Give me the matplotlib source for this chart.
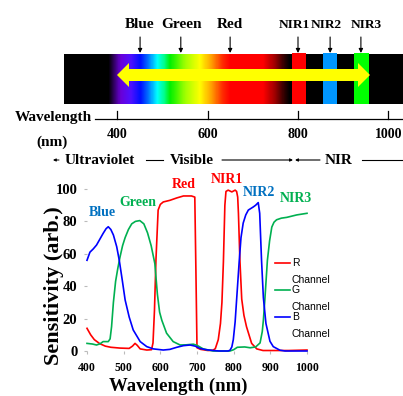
import matplotlib
matplotlib.use('Agg')
import matplotlib.pyplot as plt
import numpy as np
from matplotlib.patches import Polygon, Rectangle
from matplotlib.colors import LinearSegmentedColormap
from matplotlib.lines import Line2D

# ---------------- data ----------------
wl_r = [400, 410, 420, 435, 450, 465, 490, 515, 524, 531, 537, 545, 563, 576, 580, 584, 588, 594,
        600, 608, 626, 645, 663, 685, 694, 697, 700, 710, 730, 744, 750, 758, 764, 768, 772, 776,
        779, 785, 795, 804, 808, 811, 813, 817, 822, 828, 835, 849, 863, 880, 950, 1000]
s_r = [14, 10, 7, 4.5, 3, 2.3, 1.8, 1.6, 3, 4.7, 3.5, 1.3, 0.6, 0.8, 5, 25, 56, 87,
       90.5, 92, 93, 94.5, 95.7, 95.7, 95, 50, 2, 1, 0.3, 0.5, 1.5, 7, 17, 30, 55, 90,
       98.5, 99.3, 98.2, 99.3, 98.5, 95, 85, 56, 32, 22, 15, 4.7, 1.3, 0.3, 0.3, 0.6]

wl_g = [400, 415, 426, 436, 444, 458, 463, 467, 472, 478, 484, 490, 497, 504, 513, 522, 532, 544,
        555, 565, 575, 585, 592, 598, 604, 617, 635, 654, 670, 690, 700, 717, 744, 790, 800, 810,
        830, 845, 860, 872, 878, 881, 885, 892, 898, 904, 910, 917, 930, 945, 972, 1000]
s_g = [4.7, 4.3, 3.7, 4.5, 5.8, 5.8, 7.5, 15, 30, 43, 51, 58, 65, 70, 75, 78.5, 80, 80.5,
       78.5, 73, 65, 54, 35, 24, 19, 11, 5.8, 3.7, 3.8, 4.2, 3.5, 1.3, 0, 0, 0.8, 2.3,
       2.5, 2, 2.5, 5, 12, 19, 31.5, 56, 68, 76.5, 79.5, 81, 82, 82.5, 84, 85]

wl_b = [400, 408, 417, 426, 435, 444, 452, 458, 465, 472, 481, 488, 496, 504, 515, 526, 545, 563,
        581, 608, 626, 645, 663, 681, 695, 708, 725, 744, 760, 785, 790, 795, 799, 804, 808, 815,
        820, 826, 833, 840, 854, 860, 867, 871, 876, 881, 888, 894, 899, 908, 926, 940, 1000]
s_b = [56, 61, 63, 65.4, 69, 72.6, 75.5, 76.7, 75, 71.6, 64.4, 56, 44, 31.5, 21, 13, 5.8, 2.7,
       1.3, 0.6, 1, 2.3, 3.3, 3.7, 3, 1.6, 0.8, 0.3, 0, 0, 0.5, 2.5, 7, 18, 31.5, 55,
       70, 79, 84, 87, 89, 90, 91.6, 85, 56, 33, 17, 11, 6, 2.7, 0.5, 0, 0]

series_labels = ['R\n\nChannel', 'G\n\nChannel', 'B\n\nChannel']
series_colors = ['#ff0000', '#00b050', '#0000ff']

band_names = ['Red', 'NIR1', 'NIR2', 'NIR3', 'Blue', 'Green']
band_text_wl = [664.5, 782, 870, 969, 442, 540]
band_text_s = [103, 105.6, 98, 94.4, 85.8, 91.4]
band_text_colors = ['#ff0000', '#ff0000', '#0070c0', '#00b050', '#0070c0', '#00b050']

x_ticks = [400, 500, 600, 700, 800, 900, 1000]
y_ticks = [0, 20, 40, 60, 80, 100]

# top spectrum diagram
top_ticks = [400, 600, 800, 1000]
top_band_names = ['Blue', 'Green', 'Red', 'NIR1', 'NIR2', 'NIR3']
top_band_wl = [451, 541, 650, 800, 871, 939]
nir_ranges = [(787, 818), (855, 886), (924, 957)]
nir_colors = ['#ff0000', '#0096ff', '#00ff00']
spec_wl = [283, 380, 392, 407, 429, 451, 468, 488, 503, 517, 550, 583, 610, 632, 650, 723, 749,
           770, 782, 1032]
spec_col = ['#000000', '#000000', '#300060', '#6a00d8', '#5010ff', '#0010ff', '#0070ff', '#00ffff',
            '#00ff90', '#00f000', '#a0ff00', '#ffff00', '#ff9a00', '#ff3000', '#ff0000', '#ff0000',
            '#a00000', '#300000', '#000000', '#000000']

# ---------------- figure ----------------
W, H = 403, 396
SERIF = 'Liberation Serif'
SANS = 'Liberation Sans'
plt.rcParams['font.family'] = [SERIF, 'DejaVu Serif']

fig = plt.figure(figsize=(W / 100, H / 100), dpi=100)

# ---- top diagram ----
TOP_H = 172
axt = fig.add_axes([0, 1 - TOP_H / H, 1, TOP_H / H])


def px2w(x):
    return 400 + (x - 117) / 0.4525


axt.set_xlim(px2w(0), px2w(W))
axt.set_ylim(TOP_H, 0)
axt.axis('off')

pos = [(w - spec_wl[0]) / (spec_wl[-1] - spec_wl[0]) for w in spec_wl]
cmap = LinearSegmentedColormap.from_list('spec', list(zip(pos, spec_col)))
axt.imshow(np.linspace(0, 1, 800)[None, :], cmap=cmap, aspect='auto',
           extent=[spec_wl[0], spec_wl[-1], 104, 54], interpolation='bilinear', zorder=1)

for (a, b), c in zip(nir_ranges, nir_colors):
    axt.add_patch(Rectangle((a, 53), b - a, 51, facecolor=c, edgecolor='none', zorder=2))

# yellow double arrow
tl, tr = 400, px2w(370)
hl = 12 / 0.4525
yc = 75
verts = [(tl, yc), (tl + hl, yc - 12), (tl + hl, yc - 6), (tr - hl, yc - 6), (tr - hl, yc - 12),
         (tr, yc), (tr - hl, yc + 12), (tr - hl, yc + 6), (tl + hl, yc + 6), (tl + hl, yc + 12)]
axt.add_patch(Polygon(verts, closed=True, facecolor='#ffff00', edgecolor='none', zorder=3))

# band labels with arrows
label_px = [140, 181, 230, 294.5, 326.5, 366]
label_size = [11, 11, 11, 9.6, 9.6, 9.6]
for name, w, lx, fs in zip(top_band_names, top_band_wl, label_px, label_size):
    axt.annotate('', xy=(w, 53), xytext=(w, 37),
                 arrowprops=dict(arrowstyle='-|>', color='black', lw=0.8, mutation_scale=6,
                                 shrinkA=0, shrinkB=0))
    axt.text(px2w(lx), 25, name, ha='center', va='center', fontsize=fs, fontweight='bold',
             family=SERIF)

# wavelength axis
axt.plot([px2w(95), px2w(W)], [119, 119], color='black', lw=0.9)
for t in top_ticks:
    axt.plot([t, t], [111, 119], color='black', lw=0.9)
    axt.text(t, 135, str(t), ha='center', va='center', fontsize=10, fontweight='bold')
axt.text(px2w(92), 118, 'Wavelength', ha='right', va='center', fontsize=11, fontweight='bold')
axt.text(px2w(52), 142, '(nm)', ha='center', va='center', fontsize=11, fontweight='bold')

# region row
ry = 160
axt.text(px2w(65), ry, 'Ultraviolet', ha='left', va='center', fontsize=11, fontweight='bold')
axt.text(px2w(170), ry, 'Visible', ha='left', va='center', fontsize=11, fontweight='bold')
axt.text(px2w(325), ry, 'NIR', ha='left', va='center', fontsize=11, fontweight='bold')
axt.annotate('', xy=(px2w(53), ry), xytext=(px2w(59), ry),
             arrowprops=dict(arrowstyle='-|>', color='black', lw=0.7, mutation_scale=4,
                             shrinkA=0, shrinkB=0))
axt.plot([px2w(146), px2w(163)], [ry, ry], color='black', lw=0.8)
axt.annotate('', xy=(px2w(293), ry), xytext=(px2w(222), ry),
             arrowprops=dict(arrowstyle='-|>', color='black', lw=0.8, mutation_scale=4,
                             shrinkA=0, shrinkB=0))
axt.annotate('', xy=(px2w(295), ry), xytext=(px2w(320), ry),
             arrowprops=dict(arrowstyle='-|>', color='black', lw=0.8, mutation_scale=4,
                             shrinkA=0, shrinkB=0))
axt.plot([px2w(362), px2w(W)], [ry, ry], color='black', lw=0.8)

# ---- sensitivity chart ----
ax = fig.add_axes([87 / W, 1 - 351 / H, 220 / W, 162 / H])
for wl, s, c in zip([wl_r, wl_g, wl_b], [s_r, s_g, s_b], series_colors):
    ax.plot(wl, s, color=c, lw=1.2, clip_on=False, solid_joinstyle='round')
ax.set_xlim(400, 1000)
ax.set_ylim(0, 100)
for sp in ax.spines.values():
    sp.set_visible(False)
ax.set_xticks(x_ticks)
ax.set_yticks(y_ticks)
ax.tick_params(length=2, width=0.8, color='#bbbbbb')
ax.tick_params(axis='y', pad=5)
ax.tick_params(axis='x', pad=6)
for lab in ax.get_yticklabels():
    lab.set_fontsize(10.5)
    lab.set_fontweight('bold')
for lab in ax.get_xticklabels():
    lab.set_fontsize(8.5)
    lab.set_fontweight('bold')

for name, w, s, c in zip(band_names, band_text_wl, band_text_s, band_text_colors):
    ax.text(w, s, name, ha='center', va='center', color=c, fontsize=10, fontweight='bold')

fig.text(54 / W, 1 - 286 / H, 'Sensitivity (arb.)', rotation=90, ha='center', va='center',
         fontsize=16, fontweight='bold')
fig.text(178 / W, 1 - 386 / H, 'Wavelength (nm)', ha='center', va='center',
         fontsize=13.5, fontweight='bold')

# manual legend
for i, (lab, c) in enumerate(zip(series_labels, series_colors)):
    y = 263 + 27 * i
    fig.add_artist(Line2D([275 / W, 290 / W], [1 - y / H, 1 - y / H], color=c, lw=1.2))
    first, _, second = lab.split('\n')
    fig.text(292 / W, 1 - y / H, first, ha='left', va='center', fontsize=7.5, family=SANS)
    fig.text(292 / W, 1 - (y + 17) / H, second, ha='left', va='center', fontsize=7.5, family=SANS)

fig.savefig('out.png', dpi=100)
